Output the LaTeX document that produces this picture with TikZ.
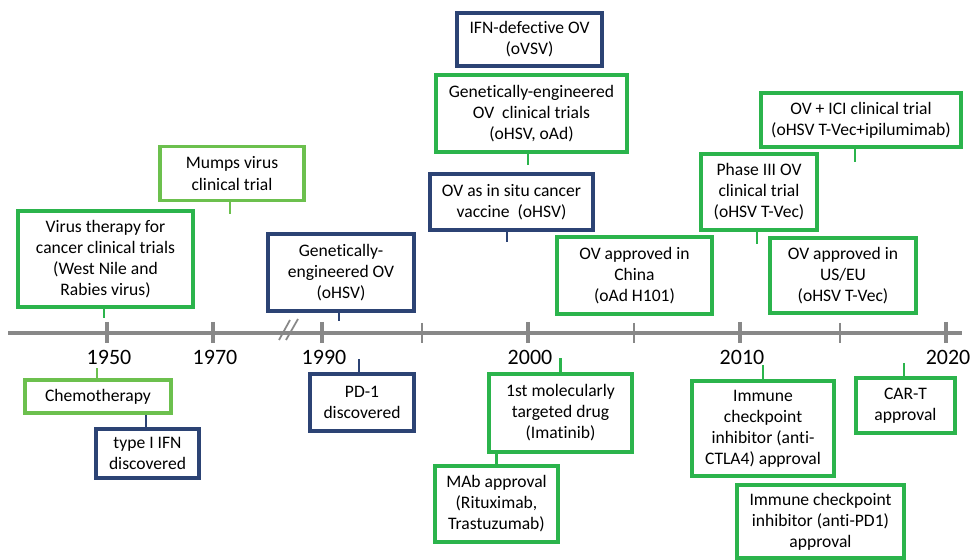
\documentclass[tikz,border=0pt]{standalone}
\usepackage{fontspec}
\setmainfont{Carlito}[Ligatures=NoCommon]
\usepackage{tikz}
\usetikzlibrary{positioning}
\definecolor{ovgreen}{HTML}{2BB44C}
\definecolor{limegreen}{HTML}{6CC04E}
\definecolor{navy}{HTML}{2C4374}
\definecolor{axisgray}{HTML}{888888}

\begin{document}
\begin{tikzpicture}[x=0.02cm, y=-0.02cm,
  event/.style={draw, line width=1.8pt, fill=white, align=center, inner sep=1pt,
    font=\fontsize{10}{12}\selectfont},
  gbox/.style={event, draw=ovgreen},
  lbox/.style={event, draw=limegreen},
  nbox/.style={event, draw=navy},
  stub/.style={line width=1.3pt},
  year/.style={font=\fontsize{12.5}{14}\selectfont}]
  \useasboundingbox (0,0) rectangle (970,560);

  % time axis
  \coordinate (start) at (8,333);
  \coordinate (end) at (962,333);
  \draw[axisgray, line width=2.6pt] (start) -- (end);
  \foreach \x/\yr in {107/1950, 213/1970, 322/1990, 528/2000, 740/2010, 946/2020} {
    \draw[axisgray, line width=1.8pt] (\x,322) -- (\x,343);
    \node[year] (y\yr) at (\x+2,357) {\yr};
  }
  \foreach \x in {422, 634, 840}
    \draw[axisgray, line width=0.9pt] (\x,323) -- (\x,343);
  % break
  \draw[axisgray, line width=1pt] (279,340) -- (290,320);
  \draw[axisgray, line width=1pt] (286,340) -- (298,319);

  % above the axis
  \node[gbox, minimum width=3.5cm, minimum height=1.92cm] (virus) at (105.5,259)
    {Virus therapy for\\cancer clinical trials\\(West Nile and\\Rabies virus)};
  \node[lbox, minimum width=2.88cm, minimum height=1.08cm] (mumps) at (232,173.5)
    {Mumps virus\\clinical trial};
  \node[nbox, minimum width=2.92cm, minimum height=1.54cm] (geneng) at (341,272.5)
    {Genetically-\\engineered OV\\(oHSV)};
  \node[nbox, minimum width=3.26cm, minimum height=1.12cm] (insitu) at (511.5,202)
    {OV as in situ cancer\\vaccine\ \ (oHSV)};
  \node[gbox, minimum width=3.82cm, minimum height=1.54cm] (ovtrials) at (531.5,113.5)
    {Genetically-engineered\\OV\ \ clinical trials\\(oHSV, oAd)};
  \node[nbox, minimum width=2.9cm, minimum height=1.06cm] (ifndef) at (529.5,39.5)
    {IFN-defective OV\\(oVSV)};
  \node[gbox, minimum width=3.1cm, minimum height=1.54cm] (china) at (634.5,275.5)
    {OV approved in\\China\\(oAd H101)};
  \node[gbox, minimum width=2.32cm, minimum height=1.52cm] (phase3) at (759,192)
    {Phase III OV\\clinical trial\\(oHSV T-Vec)};
  \node[gbox, minimum width=4.0cm, minimum height=1.08cm] (ici) at (861,120)
    {OV + ICI clinical trial\\(oHSV T-Vec+ipilumimab)};
  \node[gbox, minimum width=2.92cm, minimum height=1.5cm] (useu) at (843,275.5)
    {OV approved in\\US/EU\\(oHSV T-Vec)};

  % below the axis
  \node[lbox, minimum width=2.92cm, minimum height=0.66cm] (chemo) at (98,396.5)
    {Chemotherapy};
  \node[nbox, minimum width=2.06cm, minimum height=0.98cm] (ifn1) at (147.5,453.5)
    {type I IFN\\discovered};
  \node[nbox, minimum width=2.08cm, minimum height=1.14cm] (pd1) at (362,402.5)
    {PD-1\\discovered};
  \node[gbox, minimum width=2.86cm, minimum height=1.56cm] (imatinib) at (560.5,413)
    {1st molecularly\\targeted drug\\(Imatinib)};
  \node[gbox, minimum width=2.46cm, minimum height=1.52cm] (mab) at (496.5,504)
    {MAb approval\\(Rituximab,\\Trastuzumab)};
  \node[gbox, minimum width=2.84cm, minimum height=1.9cm] (ctla4) at (763,428.5)
    {Immune\\checkpoint\\inhibitor (anti-\\CTLA4) approval};
  \node[gbox, minimum width=1.98cm, minimum height=1.1cm] (cart) at (905.5,405.5)
    {CAR-T\\approval};
  \node[gbox, minimum width=3.34cm, minimum height=1.46cm] (antipd1) at (820.5,521.5)
    {Immune checkpoint\\inhibitor (anti-PD1)\\approval};

  % stubs
  \draw[stub, ovgreen] ([xshift=-0.03cm]virus.south) -- ++(0,9);
  \draw[stub, limegreen] ([xshift=-0.04cm]mumps.south) -- ++(0,12);
  \draw[stub, navy] ([xshift=-0.04cm]geneng.south) -- ++(0,8);
  \draw[stub, navy] ([xshift=-0.09cm]insitu.south) -- ++(0,10);
  \draw[stub, ovgreen] ([xshift=-0.07cm]ovtrials.south) -- ++(0,11);
  \draw[stub, ovgreen] ([xshift=-0.04cm]phase3.south) -- ++(0,12);
  \draw[stub, ovgreen] ([xshift=-0.12cm]ici.south) -- ++(0,13);
  \draw[stub, limegreen] ([xshift=-0.02cm]chemo.north) -- ++(0,-10);
  \draw[stub, navy] ([xshift=-0.03cm]ifn1.north) -- ([xshift=-0.03cm]ifn1.north |- chemo.south);
  \draw[stub, navy] ([xshift=-0.06cm]pd1.north) -- ++(0,-13);
  \draw[stub, ovgreen] (imatinib.north) -- ++(0,-14);
  \draw[stub, ovgreen] (mab.north) -- ++(0,-10);
  \draw[stub, ovgreen] (ctla4.north) -- ++(0,-14);
  \draw[stub, ovgreen] ([xshift=-0.03cm]cart.north) -- ++(0,-13);
\end{tikzpicture}
\end{document}
